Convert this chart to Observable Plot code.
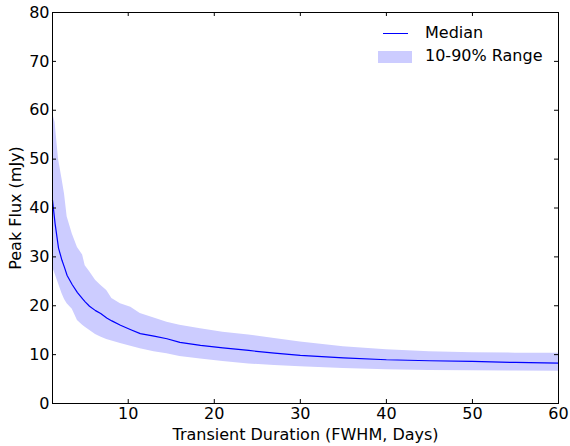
<!DOCTYPE html>
<html><head><meta charset="utf-8">
<script src="https://cdn.jsdelivr.net/npm/d3@7"></script>
<script src="https://cdn.jsdelivr.net/npm/@observablehq/plot@0.6"></script>
<style>
html,body{margin:0;padding:0;background:#fff;}
#wrap{position:relative;width:570px;height:446px;font-family:"DejaVu Sans",sans-serif;}
.leg{position:absolute;font-size:16px;color:#000;line-height:1;white-space:nowrap;}
</style></head><body><div id="wrap"></div>
<script>
// Transient duration (FWHM, days)
const duration = [1.2, 1.5, 1.9, 2.3, 2.6, 2.9, 3.5, 4.1, 4.7, 5.0, 5.5, 6.2, 6.8, 7.5, 8.1, 9.1, 10.3, 11.4, 13, 14.5, 16, 18.4, 21, 24, 27, 30, 35, 40, 45, 50, 55, 60];
// Median peak flux (mJy)
const medianFlux = [41.6, 36.8, 31.8, 29.3, 27.8, 26.2, 24.3, 22.7, 21.4, 20.8, 19.9, 19.0, 18.4, 17.5, 16.9, 16.0, 15.1, 14.3, 13.8, 13.25, 12.5, 11.9, 11.4, 10.85, 10.3, 9.85, 9.35, 8.95, 8.75, 8.6, 8.4, 8.25];
// 10th percentile (mJy)
const lowerFlux = [28.0, 26.5, 24.5, 22.5, 21.3, 20.4, 19.3, 17.0, 16.0, 15.6, 15.0, 14.1, 13.6, 13.1, 12.8, 12.3, 11.7, 11.2, 10.6, 10.2, 9.6, 9.1, 8.6, 8.1, 7.75, 7.5, 7.15, 6.9, 6.75, 6.7, 6.65, 6.6];
// 90th percentile (mJy)
const upperFlux = [59.5, 57.5, 50.0, 46.0, 42.8, 38.2, 34.7, 31.9, 30.4, 28.2, 27.0, 25.2, 24.2, 23.1, 21.5, 20.4, 19.7, 18.4, 17.5, 16.6, 16.0, 15.3, 14.6, 14.0, 13.3, 12.6, 11.6, 11.0, 10.6, 10.4, 10.3, 10.3];
const xTicks = [10, 20, 30, 40, 50, 60];
const yTicks = [0, 10, 20, 30, 40, 50, 60, 70, 80];
const legendLabels = ["Median", "10-90% Range"];

const rows = duration.map((d, i) => ({d, med: medianFlux[i], lo: lowerFlux[i], hi: upperFlux[i]}));

const W = 570, H = 446, mL = 52, mR = 12, mT = 12, mB = 43;
const plotW = W - mL - mR, plotH = H - mT - mB;
const FS = 16;

const chart = Plot.plot({
  width: W, height: H,
  marginLeft: mL, marginRight: mR, marginTop: mT, marginBottom: mB,
  style: {fontFamily: "DejaVu Sans", fontSize: FS + "px", color: "#000", background: "#fff"},
  x: {domain: [1.2, 60]},
  y: {domain: [0, 80]},
  marks: [
    Plot.areaY(rows, {x: "d", y1: "lo", y2: "hi", fill: "#ccccff", fillOpacity: 1}),
    Plot.lineY(rows, {x: "d", y: "med", stroke: "#0000ff", strokeWidth: 1.2}),
    Plot.tickX(xTicks, {x: d => d, stroke: "#000", insetTop: plotH - 4}),
    Plot.tickX(xTicks, {x: d => d, stroke: "#000", insetBottom: plotH - 4}),
    Plot.tickY(yTicks, {y: d => d, stroke: "#000", insetRight: plotW - 4}),
    Plot.tickY(yTicks, {y: d => d, stroke: "#000", insetLeft: plotW - 4}),
    Plot.frame({stroke: "#000", strokeWidth: 1}),
    Plot.axisX({ticks: xTicks, tickSize: 0, tickPadding: 4, fontSize: FS,
      label: "Transient Duration (FWHM, Days)", labelAnchor: "center", labelArrow: "none", labelOffset: 36}),
    Plot.axisY({ticks: yTicks, tickSize: 0, tickPadding: 3, fontSize: FS,
      label: "Peak Flux (mJy)", labelAnchor: "center", labelArrow: "none", labelOffset: 43})
  ]
});
const wrap = document.getElementById("wrap");
wrap.appendChild(chart);

// legend
const l1 = document.createElement("div");
l1.style.cssText = "position:absolute;left:383px;top:33px;width:25px;height:0;border-top:1.2px solid #0000ff;";
wrap.appendChild(l1);
const t1 = document.createElement("div");
t1.className = "leg"; t1.style.left = "425px"; t1.style.top = "25px"; t1.textContent = legendLabels[0];
wrap.appendChild(t1);
const s2 = document.createElement("div");
s2.style.cssText = "position:absolute;left:378px;top:51px;width:34px;height:12px;background:#ccccff;";
wrap.appendChild(s2);
const t2 = document.createElement("div");
t2.className = "leg"; t2.style.left = "425px"; t2.style.top = "48px"; t2.textContent = legendLabels[1];
wrap.appendChild(t2);
</script></body></html>
